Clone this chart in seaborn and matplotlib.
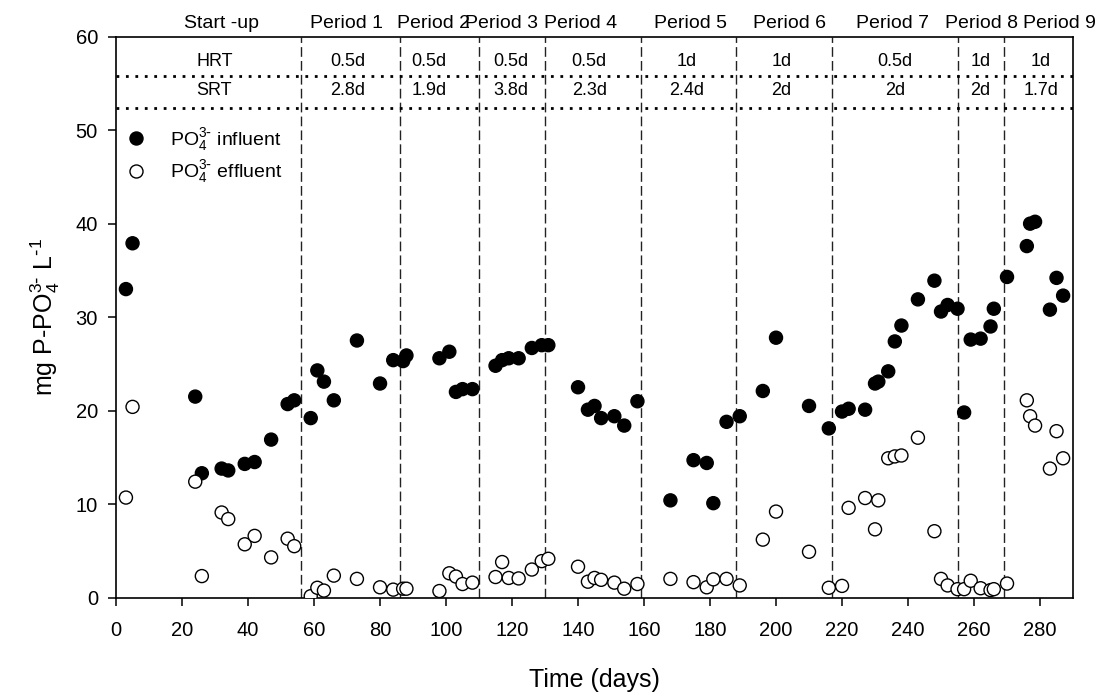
import pandas as pd
import matplotlib
matplotlib.use("Agg")
import matplotlib.pyplot as plt
import seaborn as sns

# Data
days = [3, 5, 24, 26, 32, 34, 39, 42, 47, 52, 54, 59, 61, 63, 66, 73, 80, 84, 87, 88,
        98, 101, 103, 105, 108, 115, 117, 119, 122, 126, 129, 131, 140, 143, 145, 147,
        151, 154, 158, 168, 175, 179, 181, 185, 189, 196, 200, 210, 216, 220, 222, 227,
        230, 231, 234, 236, 238, 243, 248, 250, 252, 255, 257, 259, 262, 265, 266, 270,
        276, 277, 278.5, 283, 285, 287]

influent = [33.0, 37.9, 21.5, 13.3, 13.8, 13.6, 14.3, 14.5, 16.9, 20.7, 21.1, 19.2, 24.3,
            23.1, 21.1, 27.5, 22.9, 25.4, 25.3, 25.9, 25.6, 26.3, 22.0, 22.3, 22.3, 24.8,
            25.4, 25.6, 25.6, 26.7, 27.0, 27.0, 22.5, 20.1, 20.5, 19.2, 19.4, 18.4, 21.0,
            10.4, 14.7, 14.4, 10.1, 18.8, 19.4, 22.1, 27.8, 20.5, 18.1, 19.9, 20.2, 20.1,
            22.9, 23.1, 24.2, 27.4, 29.1, 31.9, 33.9, 30.6, 31.3, 30.9, 19.8, 27.6, 27.7,
            29.0, 30.9, 34.3, 37.6, 40.0, 40.2, 30.8, 34.2, 32.3]

effluent = [10.7, 20.4, 12.4, 2.3, 9.1, 8.4, 5.7, 6.6, 4.3, 6.3, 5.5, 0.15, 1.05, 0.75,
            2.35, 2.0, 1.1, 0.85, 0.95, 0.95, 0.7, 2.6, 2.25, 1.45, 1.6, 2.2, 3.8, 2.1,
            2.05, 3.0, 3.9, 4.15, 3.3, 1.7, 2.1, 1.9, 1.6, 0.95, 1.45, 2.0, 1.65, 1.1,
            1.95, 2.0, 1.3, 6.2, 9.2, 4.9, 1.05, 1.25, 9.6, 10.65, 7.3, 10.4, 14.9, 15.1,
            15.2, 17.1, 7.1, 2.0, 1.3, 0.9, 0.9, 1.8, 1.0, 0.8, 0.9, 1.5, 21.1, 19.4,
            18.4, 13.8, 17.8, 14.9]

# Period boundaries (days) and operating conditions
period_bounds = [56, 86, 110, 130, 159, 188, 217, 255, 269]
period_names = ["Start -up", "Period 1", "Period 2", "Period 3", "Period 4", "Period 5",
                "Period 6", "Period 7", "Period 8", "Period 9"]
hrt_labels = ["HRT", "0.5d", "0.5d", "0.5d", "0.5d", "1d", "1d", "0.5d", "1d", "1d"]
srt_labels = ["SRT", "2.8d", "1.9d", "3.8d", "2.3d", "2.4d", "2d", "2d", "2d", "1.7d"]

# where the labels sit along the x axis
name_x = [32, 69.8, 96.1, 116.8, 140.8, 174, 204, 235.3, 262.3, 285.8]
table_x = [29.8, 70.3, 94.8, 119.6, 143.4, 173, 201.7, 236, 262, 280.2]

INF_LABEL = r"PO$_4^{3\text{-}}$ influent"
EFF_LABEL = r"PO$_4^{3\text{-}}$ effluent"


def plot_phosphate():
    sns.set_style("ticks")
    plt.rcParams["font.family"] = ["Liberation Sans", "DejaVu Sans"]
    plt.rcParams["mathtext.default"] = "regular"
    plt.rcParams["text.color"] = "black"
    plt.rcParams["axes.labelcolor"] = "black"

    df = pd.DataFrame({
        "day": days * 2,
        "value": influent + effluent,
        "series": [INF_LABEL] * len(days) + [EFF_LABEL] * len(days),
    })

    fig = plt.figure(figsize=(11.02, 6.96), dpi=100)
    ax = fig.add_axes([0.1053, 0.1414, 0.8684, 0.8059])

    sns.scatterplot(data=df, x="day", y="value", hue="series",
                    palette={INF_LABEL: "black", EFF_LABEL: "white"},
                    edgecolor="black", linewidth=1.0, s=88, ax=ax, zorder=3)

    # period separators
    for b in period_bounds:
        ax.axvline(b, color="#222222", lw=1.0, linestyle=(0, (7, 3)), zorder=1)

    # HRT / SRT table rows
    for yv in [55.8, 52.4]:
        ax.axhline(yv, color="black", lw=2.0, linestyle=(0, (1, 2.4)), zorder=1)

    for x, name in zip(name_x, period_names):
        ax.text(x, 61.4, name, ha="center", va="center", fontsize=14, clip_on=False)
    for x, lab in zip(table_x, hrt_labels):
        ax.text(x, 57.3, lab, ha="center", va="center", fontsize=13)
    for x, lab in zip(table_x, srt_labels):
        ax.text(x, 54.2, lab, ha="center", va="center", fontsize=13)

    ax.set_xlim(0, 290)
    ax.set_ylim(0, 60)
    ax.set_xticks(range(0, 281, 20))
    ax.set_yticks(range(0, 61, 10))
    ax.tick_params(direction="out", length=6, width=1.1, labelsize=14.5, colors="black")
    ax.tick_params(axis="x", pad=11)
    ax.tick_params(axis="y", pad=7)
    for sp in ax.spines.values():
        sp.set_linewidth(1.2)
        sp.set_color("black")

    ax.set_xlabel("Time (days)", fontsize=18, labelpad=20)
    ax.set_ylabel(r"mg P-PO$_4^{3\text{-}}$ L$^{\text{-}1}$", fontsize=18, labelpad=10)

    handles, labels = ax.get_legend_handles_labels()
    ax.legend(handles, labels, loc="upper left", bbox_to_anchor=(0.003, 0.855),
              frameon=False, fontsize=14, handlelength=1.0, handletextpad=1.25,
              labelspacing=0.3, borderaxespad=0)

    plt.savefig("out.png", dpi=100)
    plt.close()


if __name__ == "__main__":
    plot_phosphate()
